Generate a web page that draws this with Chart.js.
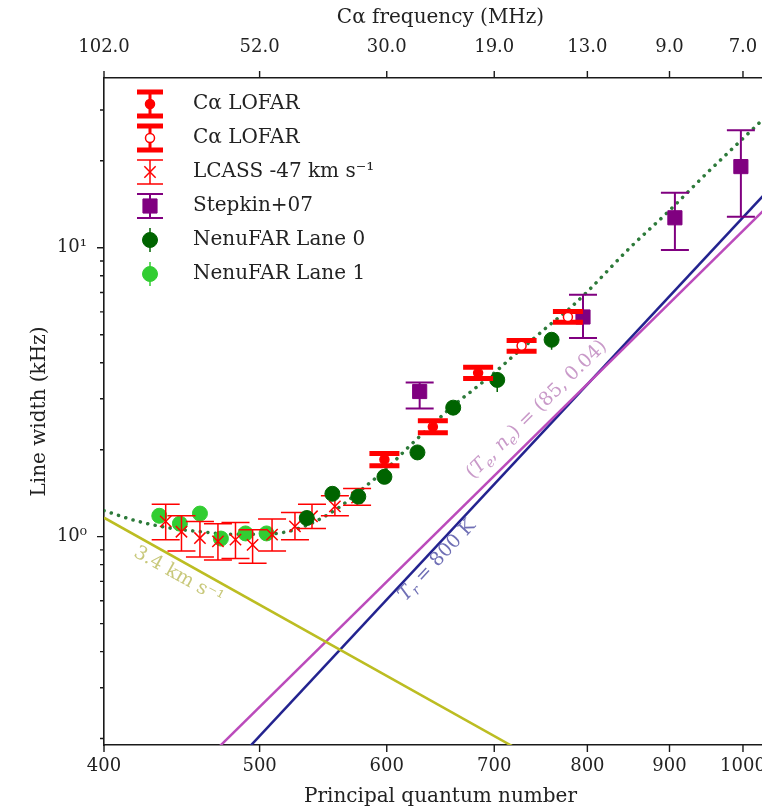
<!DOCTYPE html>
<html>
<head>
<meta charset="utf-8">
<script src="https://cdn.jsdelivr.net/npm/chart.js@4.4.1/dist/chart.umd.min.js"></script>
<style>
  html, body { margin: 0; padding: 0; background: #fff; overflow: hidden; }
</style>
</head>
<body>
<canvas id="myChart" width="800" height="812"></canvas>
<script>
const serif = '"DejaVu Serif", "Liberation Serif", serif';

// axis ticks: quantum number below, matching C-alpha frequency (MHz) above
const nTicks = [400, 500, 600, 700, 800, 900, 1000];
const freqLabels = ['102.0', '52.0', '30.0', '19.0', '13.0', '9.0', '7.0'];
const widthTicks = [0.2, 0.3, 0.4, 0.5, 0.6, 0.7, 0.8, 0.9, 1, 2, 3, 4, 5, 6, 7, 8, 9, 10, 20, 30];

// C-alpha LOFAR (filled)
const lofarN  = [598, 641, 684];
const lofarW  = [1.85, 2.40, 3.69];
const lofarLo = [1.76, 2.29, 3.53];
const lofarHi = [1.94, 2.52, 3.86];

// C-alpha LOFAR (open)
const lofarOpenN  = [728, 778];
const lofarOpenW  = [4.58, 5.76];
const lofarOpenLo = [4.38, 5.52];
const lofarOpenHi = [4.78, 6.02];

// LCASS -47 km/s
const lcassN  = [437, 447, 459, 471, 483, 495, 509, 526, 539, 557, 575];
const lcassW  = [1.13, 1.04, 0.989, 0.963, 0.977, 0.937, 1.016, 1.085, 1.176, 1.273, 1.366];
const lcassLo = [0.975, 0.892, 0.850, 0.830, 0.840, 0.809, 0.892, 0.975, 1.068, 1.181, 1.284];
const lcassHi = [1.294, 1.181, 1.129, 1.109, 1.119, 1.057, 1.150, 1.212, 1.294, 1.386, 1.468];

// Stepkin+07
const stepN  = [629, 795, 907, 997];
const stepW  = [3.18, 5.76, 12.7, 19.1];
const stepLo = [2.78, 4.87, 9.82, 12.8];
const stepHi = [3.42, 6.87, 15.5, 25.5];

// NenuFAR lane 0
const lane0N  = [535, 555, 576, 598, 627, 660, 703, 760];
const lane0W  = [1.160, 1.407, 1.376, 1.611, 1.957, 2.796, 3.488, 4.803];
const lane0Lo = [1.109, 1.356, 1.325, 1.560, 1.846, 2.706, 3.168, 4.436];
const lane0Hi = [1.212, 1.458, 1.427, 1.662, 2.039, 2.887, 3.708, 5.031];

// NenuFAR lane 1
const lane1N  = [433, 446, 459, 473, 490, 505];
const lane1W  = [1.181, 1.109, 1.202, 0.985, 1.026, 1.026];
const lane1Lo = [1.129, 1.057, 1.150, 0.944, 0.985, 0.985];
const lane1Hi = [1.232, 1.160, 1.253, 1.026, 1.068, 1.068];

// total line width model (dotted)
const modelN = [400, 420, 440, 460, 480, 500, 520, 540, 560, 580, 600, 620, 640, 660, 680, 700, 720, 740, 760, 780, 800, 850, 900, 950, 1000, 1050];
const modelW = [1.23, 1.13, 1.07, 1.04, 1.02, 1.02, 1.04, 1.12, 1.26, 1.47, 1.72, 2.06, 2.43, 2.84, 3.24, 3.69, 4.24, 4.83, 5.48, 6.17, 7.05, 9.98, 13.47, 18.18, 23.9, 31.0];

// Doppler, collisional and radiation broadening lines
const dopplerN = [400, 760];
const dopplerW = [1.163, 0.158];
const collN = [460, 1060];
const collW = [0.163, 15.75];
const radN = [480, 1060];
const radW = [0.160, 18.03];

const pts = (xs, ys) => xs.map((x, i) => ({x: x, y: ys[i]}));

// vertical error bars with caps, drawn under each dataset's markers
const errorBars = {
  id: 'errorBars',
  beforeDatasetDraw(chart, args) {
    const ds = chart.data.datasets[args.index];
    if (!ds.errLo) return;
    const {ctx, chartArea: a} = chart;
    const xs = chart.scales.x, ys = chart.scales.y;
    ctx.save();
    ctx.beginPath();
    ctx.rect(a.left, a.top, a.right - a.left, a.bottom - a.top);
    ctx.clip();
    ctx.strokeStyle = ds.borderColor;
    ds.data.forEach((p, i) => {
      const px = xs.getPixelForValue(p.x);
      const lo = ys.getPixelForValue(ds.errLo[i]);
      const hi = ys.getPixelForValue(ds.errHi[i]);
      ctx.lineWidth = ds.errWidth;
      ctx.beginPath();
      ctx.moveTo(px, lo);
      ctx.lineTo(px, hi);
      ctx.stroke();
      if (ds.capSize) {
        ctx.lineWidth = ds.capWidth;
        ctx.beginPath();
        ctx.moveTo(px - ds.capSize, lo); ctx.lineTo(px + ds.capSize, lo);
        ctx.moveTo(px - ds.capSize, hi); ctx.lineTo(px + ds.capSize, hi);
        ctx.stroke();
      }
    });
    ctx.restore();
  }
};

// outward tick marks on left, bottom and top axes
const tickMarks = {
  id: 'tickMarks',
  afterDraw(chart) {
    const {ctx, chartArea: a} = chart;
    const {x, x2, y} = chart.scales;
    ctx.save();
    ctx.strokeStyle = '#1a1a1a';
    ctx.lineWidth = 1.4;
    ctx.beginPath();
    x.ticks.forEach(t => {
      const p = x.getPixelForValue(t.value);
      ctx.moveTo(p, a.bottom); ctx.lineTo(p, a.bottom + 7);
    });
    x2.ticks.forEach(t => {
      const p = x2.getPixelForValue(t.value);
      ctx.moveTo(p, a.top); ctx.lineTo(p, a.top - 7);
    });
    y.ticks.forEach(t => {
      const p = y.getPixelForValue(t.value);
      const len = (t.value === 1 || t.value === 10) ? 7 : 4;
      ctx.moveTo(a.left, p); ctx.lineTo(a.left - len, p);
    });
    ctx.stroke();
    ctx.restore();
  }
};

// text with sub/superscript parts
function drawRich(ctx, parts, size) {
  const widthOf = p => {
    ctx.font = (p.it ? 'italic ' : '') + (p.sub ? size * 0.7 : size) + 'px ' + serif;
    return ctx.measureText(p.t).width;
  };
  const total = parts.reduce((s, p) => s + widthOf(p), 0);
  let cx = -total / 2;
  ctx.textBaseline = 'middle';
  ctx.textAlign = 'left';
  parts.forEach(p => {
    const w = widthOf(p);
    ctx.fillText(p.t, cx, p.sub ? size * 0.3 : 0);
    cx += w;
  });
}

// rotated labels running along the straight lines
const lineNotes = {
  id: 'lineNotes',
  afterDatasetsDraw(chart) {
    const {ctx} = chart;
    const xs = chart.scales.x, ys = chart.scales.y;
    chart.data.datasets.forEach(ds => {
      if (!ds.note) return;
      const a = ds.data[0], b = ds.data[ds.data.length - 1];
      const ang = Math.atan2(ys.getPixelForValue(b.y) - ys.getPixelForValue(a.y),
                             xs.getPixelForValue(b.x) - xs.getPixelForValue(a.x));
      ctx.save();
      ctx.translate(xs.getPixelForValue(ds.note.at[0]), ys.getPixelForValue(ds.note.at[1]));
      ctx.rotate(ang);
      ctx.fillStyle = ds.note.color;
      drawRich(ctx, ds.note.parts, 19);
      ctx.restore();
    });
  }
};

function drawMarker(ctx, ds, x, y) {
  ctx.fillStyle = ds.backgroundColor;
  ctx.strokeStyle = ds.borderColor;
  ctx.lineWidth = ds.pointBorderWidth;
  const r = ds.pointRadius;
  ctx.beginPath();
  if (ds.pointStyle === 'circle') {
    ctx.arc(x, y, r, 0, Math.PI * 2);
    ctx.fill(); ctx.stroke();
  } else if (ds.pointStyle === 'rect') {
    const s = r * Math.SQRT1_2;
    ctx.rect(x - s, y - s, 2 * s, 2 * s);
    ctx.fill(); ctx.stroke();
  } else if (ds.pointStyle === 'crossRot') {
    const s = r * Math.SQRT1_2;
    ctx.moveTo(x - s, y - s); ctx.lineTo(x + s, y + s);
    ctx.moveTo(x - s, y + s); ctx.lineTo(x + s, y - s);
    ctx.stroke();
  }
}

// legend in the upper left corner of the plot
const legendRows = {
  id: 'legendRows',
  afterDraw(chart) {
    const {ctx, chartArea: a} = chart;
    const iconX = a.left + 46, textX = a.left + 89;
    let rowY = a.top + 26;
    ctx.save();
    chart.data.datasets.forEach(ds => {
      if (!ds.inLegend) return;
      ctx.strokeStyle = ds.borderColor;
      ctx.lineWidth = ds.errWidth;
      ctx.beginPath();
      ctx.moveTo(iconX, rowY - 12); ctx.lineTo(iconX, rowY + 12);
      ctx.stroke();
      if (ds.capSize) {
        ctx.lineWidth = ds.capWidth;
        ctx.beginPath();
        ctx.moveTo(iconX - 13, rowY - 12); ctx.lineTo(iconX + 13, rowY - 12);
        ctx.moveTo(iconX - 13, rowY + 12); ctx.lineTo(iconX + 13, rowY + 12);
        ctx.stroke();
      }
      drawMarker(ctx, ds, iconX, rowY);
      ctx.fillStyle = '#222';
      ctx.font = '20px ' + serif;
      ctx.textBaseline = 'middle';
      ctx.textAlign = 'left';
      ctx.fillText(ds.label, textX, rowY);
      rowY += 34;
    });
    ctx.restore();
  }
};

const red = '#ff0000';
const purple = '#800080';
const darkGreen = '#006400';
const lightGreen = '#32cd32';

const data = {
  datasets: [
    {
      label: 'C\u03B1 LOFAR', inLegend: true, order: 3,
      data: pts(lofarN, lofarW), errLo: lofarLo, errHi: lofarHi,
      pointStyle: 'circle', pointRadius: 4.5, pointBorderWidth: 1.5,
      backgroundColor: red, borderColor: red,
      errWidth: 3, capSize: 15, capWidth: 5
    },
    {
      label: 'C\u03B1 LOFAR', inLegend: true, order: 3,
      data: pts(lofarOpenN, lofarOpenW), errLo: lofarOpenLo, errHi: lofarOpenHi,
      pointStyle: 'circle', pointRadius: 4.5, pointBorderWidth: 1.5,
      backgroundColor: '#ffffff', borderColor: red,
      errWidth: 3, capSize: 15, capWidth: 5
    },
    {
      label: 'LCASS -47 km s\u207B\u00B9', inLegend: true, order: 6,
      data: pts(lcassN, lcassW), errLo: lcassLo, errHi: lcassHi,
      pointStyle: 'crossRot', pointRadius: 8, pointBorderWidth: 1.5,
      backgroundColor: red, borderColor: red,
      errWidth: 1.5, capSize: 14, capWidth: 1.5
    },
    {
      label: 'Stepkin+07', inLegend: true, order: 4,
      data: pts(stepN, stepW), errLo: stepLo, errHi: stepHi,
      pointStyle: 'rect', pointRadius: 10, pointBorderWidth: 1,
      backgroundColor: purple, borderColor: purple,
      errWidth: 2, capSize: 14, capWidth: 2
    },
    {
      label: 'NenuFAR Lane 0', inLegend: true, order: 5,
      data: pts(lane0N, lane0W), errLo: lane0Lo, errHi: lane0Hi,
      pointStyle: 'circle', pointRadius: 7.5, pointBorderWidth: 1,
      backgroundColor: darkGreen, borderColor: darkGreen,
      errWidth: 1.5, capSize: 0
    },
    {
      label: 'NenuFAR Lane 1', inLegend: true, order: 7,
      data: pts(lane1N, lane1W), errLo: lane1Lo, errHi: lane1Hi,
      pointStyle: 'circle', pointRadius: 7.5, pointBorderWidth: 1,
      backgroundColor: lightGreen, borderColor: lightGreen,
      errWidth: 1.5, capSize: 0
    },
    {
      label: 'model', order: 8,
      data: pts(modelN, modelW), showLine: true, pointRadius: 0,
      borderColor: '#2d7a3a', borderWidth: 3.5, borderDash: [0.1, 7.5], borderCapStyle: 'round',
      cubicInterpolationMode: 'monotone'
    },
    {
      label: 'doppler', order: 9,
      data: pts(dopplerN, dopplerW), showLine: true, pointRadius: 0,
      borderColor: '#bcbd22', borderWidth: 2.5,
      note: { at: [445, 0.733], color: '#c8c87a', parts: [{t: '3.4 km s\u207B\u00B9'}] }
    },
    {
      label: 'collisional', order: 9,
      data: pts(collN, collW), showLine: true, pointRadius: 0,
      borderColor: '#bb4bbb', borderWidth: 2.5,
      note: { at: [744, 2.75], color: '#c99ac9', parts: [
        {t: '('}, {t: 'T', it: true}, {t: 'e', it: true, sub: true}, {t: ', '},
        {t: 'n', it: true}, {t: 'e', it: true, sub: true}, {t: ') = (85, 0.04)'}
      ] }
    },
    {
      label: 'radiation', order: 9,
      data: pts(radN, radW), showLine: true, pointRadius: 0,
      borderColor: '#23238f', borderWidth: 2.5,
      note: { at: [645, 0.826], color: '#6f6fb5', parts: [
        {t: 'T', it: true}, {t: 'r', it: true, sub: true}, {t: ' = 800 K'}
      ] }
    }
  ]
};

const tickFont = { family: serif, size: 18 };
const titleFont = { family: serif, size: 20 };

const config = {
  type: 'scatter',
  data,
  options: {
    responsive: false,
    animation: false,
    layout: { padding: { left: 0, right: 23, top: 0, bottom: 0 } },
    plugins: { legend: { display: false }, tooltip: { enabled: false } },
    scales: {
      x: {
        type: 'logarithmic', position: 'bottom', min: 400, max: 1050,
        afterBuildTicks: s => { s.ticks = nTicks.map(v => ({ value: v })); },
        afterFit: s => { s.height = 67; },
        ticks: { autoSkip: false, maxRotation: 0, padding: 11, color: '#222', font: tickFont, callback: v => String(v) },
        grid: { display: false, drawTicks: false },
        border: { display: true, color: '#1a1a1a', width: 1.6 },
        title: { display: true, text: 'Principal quantum number', color: '#222', font: titleFont, padding: { top: 0, bottom: 3 } }
      },
      x2: {
        type: 'logarithmic', position: 'top', min: 400, max: 1050,
        afterBuildTicks: s => { s.ticks = nTicks.map(v => ({ value: v })); },
        afterFit: s => { s.height = 78; },
        ticks: { autoSkip: false, maxRotation: 0, padding: 20, color: '#222', font: tickFont, callback: (v, i) => freqLabels[i] },
        grid: { display: false, drawTicks: false },
        border: { display: true, color: '#1a1a1a', width: 1.6 },
        title: { display: true, text: 'C\u03B1 frequency (MHz)', color: '#222', font: titleFont, padding: { top: 6, bottom: 0 } }
      },
      y: {
        type: 'logarithmic', position: 'left', min: 0.19, max: 38.7,
        afterBuildTicks: s => { s.ticks = widthTicks.map(v => ({ value: v })); },
        afterFit: s => { s.width = 104; },
        ticks: { autoSkip: false, padding: 17, color: '#222', font: tickFont,
          callback: v => (v === 1 ? '10\u2070' : v === 10 ? '10\u00B9' : '') },
        grid: { display: false, drawTicks: false },
        border: { display: true, color: '#1a1a1a', width: 1.6 },
        title: { display: true, text: 'Line width (kHz)', color: '#222', font: titleFont, padding: { top: 28, bottom: 0 } }
      }
    }
  },
  plugins: [errorBars, tickMarks, lineNotes, legendRows]
};

const myChart = new Chart(document.getElementById('myChart'), config);
</script>
</body>
</html>
